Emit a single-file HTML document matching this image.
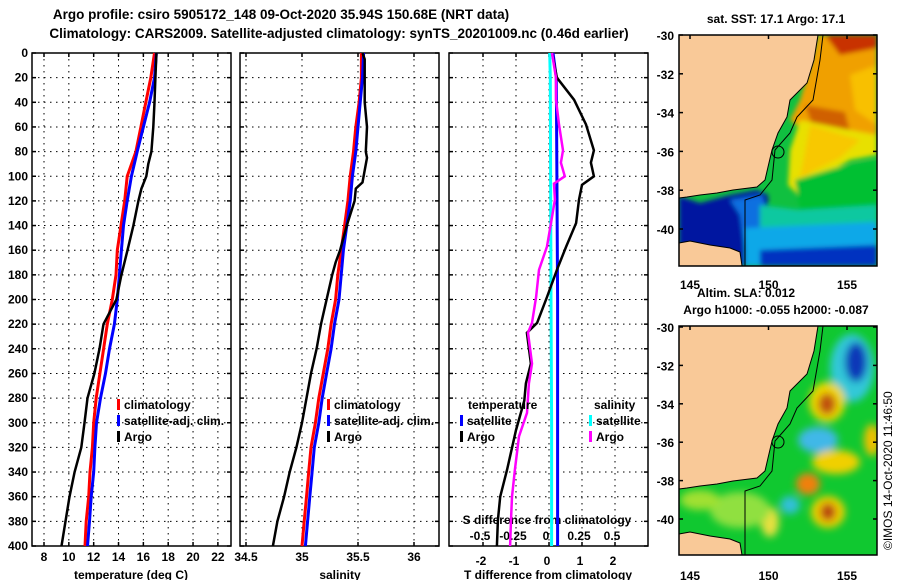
<!DOCTYPE html>
<html><head><meta charset="utf-8"><style>
html,body{margin:0;padding:0;background:#fff;}
svg{display:block;font-family:"Liberation Sans",Arial,sans-serif;font-weight:bold;}
</style></head><body>
<svg id="fig" width="900" height="580" viewBox="0 0 900 580">
<defs>
<filter id="blur3" x="-20%" y="-20%" width="140%" height="140%"><feGaussianBlur stdDeviation="2.5"/></filter>
<filter id="blur6" x="-30%" y="-30%" width="160%" height="160%"><feGaussianBlur stdDeviation="4"/></filter>
<clipPath id="clipTop"><rect x="679" y="35" width="198" height="231"/></clipPath>
<clipPath id="clipBot"><rect x="679" y="326" width="198" height="229"/></clipPath>
</defs>
<text x="281" y="19" font-size="13.5" text-anchor="middle">Argo profile: csiro 5905172_148 09-Oct-2020 35.94S 150.68E (NRT data)</text>
<text x="339" y="38" font-size="13.5" text-anchor="middle">Climatology: CARS2009. Satellite-adjusted climatology: synTS_20201009.nc (0.46d earlier)</text>

<g id="panels"></g>

<!-- Top map: SST -->
<g>
<g clip-path="url(#clipTop)">
<rect x="679" y="35" width="198" height="231" fill="#10c040"/>
<g filter="url(#blur3)">
<polygon points="790,120 800,100 812,60 818,35 877,35 877,140 850,138 820,135 800,128" fill="#f0a000"/>
<polygon points="825,35 877,35 877,48 840,55" fill="#c83000"/>
<polygon points="805,105 845,112 850,132 815,132" fill="#d06000"/>
<polygon points="850,75 877,65 877,125 855,110" fill="#f8c000"/>
<polygon points="800,120 850,130 877,135 877,155 850,160 830,172 812,188 798,195 788,185 790,150" fill="#e8e000"/>
<polygon points="810,125 860,140 840,158 815,170 800,178" fill="#f8c800"/>
<polygon points="679,196 700,203 730,195 757,190 768,195 768,215 760,235 748,266 679,266" fill="#0018a0"/>
<polygon points="730,200 762,195 768,215 758,240 745,250 740,215" fill="#1070e0"/>
<polygon points="760,205 800,210 877,205 877,240 760,240" fill="#10c8a0"/>
<polygon points="745,228 877,222 877,266 745,266" fill="#10a8e8"/>
<polygon points="760,250 877,245 877,266 760,266" fill="#0030c0"/>
<polygon points="795,180 835,168 877,160 877,205 800,210" fill="#00c030"/>
</g>
<polygon points="679,35 818,35 814,60 807,83 790,100 787,117 778,133 772,150 768,167 765,180 757,187 733,190 717,193 700,195 687,197 679,198" fill="#f9c998" stroke="#000" stroke-width="1"/>
<polygon points="679,243 690,241 710,245 730,248 740,252 742,266 679,266" fill="#f9c998" stroke="#000" stroke-width="1"/>
<polyline points="823,35 820,60 813,100 797,117 790,133 775,150 772,180 760,195 745,200 745,266" fill="none" stroke="#000" stroke-width="1"/>
<circle cx="778" cy="152" r="6" fill="none" stroke="#000" stroke-width="1"/>
</g>
<rect x="679" y="35" width="198" height="231" fill="none" stroke="#000" stroke-width="1.5"/>
</g>

<!-- Bottom map: SLA -->
<g>
<g clip-path="url(#clipBot)">
<rect x="679" y="326" width="198" height="229" fill="#10c830"/>
<g filter="url(#blur6)">
<ellipse cx="852" cy="368" rx="22" ry="34" fill="#30c8d8"/>
<ellipse cx="856" cy="362" rx="11" ry="20" fill="#0838b8"/>
<ellipse cx="827" cy="402" rx="18" ry="20" fill="#f0d800"/>
<ellipse cx="827" cy="404" rx="9" ry="11" fill="#c05010"/>
<ellipse cx="818" cy="440" rx="20" ry="13" fill="#40b8e8"/>
<ellipse cx="836" cy="462" rx="24" ry="12" fill="#f0d000"/>
<ellipse cx="808" cy="484" rx="12" ry="11" fill="#f08010"/>
<ellipse cx="828" cy="512" rx="17" ry="16" fill="#f0d000"/>
<ellipse cx="828" cy="512" rx="8" ry="9" fill="#b84010"/>
<ellipse cx="790" cy="505" rx="10" ry="9" fill="#30c0d8"/>
<ellipse cx="770" cy="522" rx="9" ry="15" fill="#e8e040"/>
<ellipse cx="872" cy="440" rx="8" ry="16" fill="#f0c000"/>
<ellipse cx="740" cy="510" rx="30" ry="18" fill="#90e040"/>
<ellipse cx="700" cy="500" rx="20" ry="10" fill="#a0e030"/>
</g>
<polygon points="679,326 818,326 814,351 807,374 790,391 787,408 778,424 772,441 768,458 765,471 757,478 733,481 717,484 700,486 687,488 679,489" fill="#f9c998" stroke="#000" stroke-width="1"/>
<polygon points="679,534 690,532 710,536 730,539 740,543 742,555 679,555" fill="#f9c998" stroke="#000" stroke-width="1"/>
<polyline points="823,326 820,351 813,391 797,408 790,424 775,441 772,471 760,486 745,491 745,555" fill="none" stroke="#000" stroke-width="1"/>
<circle cx="778" cy="442" r="6" fill="none" stroke="#000" stroke-width="1"/>
</g>
<rect x="679" y="326" width="198" height="229" fill="none" stroke="#000" stroke-width="1.5"/>
</g>

<text x="776" y="23" font-size="12" text-anchor="middle">sat. SST: 17.1 Argo: 17.1</text>
<text x="746" y="297" font-size="12" text-anchor="middle">Altim. SLA: 0.012</text>
<text x="776" y="314" font-size="12" text-anchor="middle">Argo h1000: -0.055 h2000: -0.087</text>
<text x="0" y="0" font-size="12" font-weight="normal" transform="translate(892,550) rotate(-90)">©IMOS 14-Oct-2020 11:46:50</text>
<g id="maplabels"></g>
</svg>
<script>
const depthStd = [0,20,40,60,80,100,120,140,160,180,200,220,240,260,280,300,320,340,360,380,400];
const tempClim = [16.9,16.6,16.2,15.8,15.4,14.7,14.5,14.2,13.9,13.8,13.5,13.1,12.8,12.5,12.2,12.0,11.9,11.7,11.6,11.4,11.3];
const tempSat = [17.05,16.9,16.5,16.0,15.5,15.04,14.7,14.4,14.23,14.07,13.9,13.67,13.27,12.95,12.55,12.23,12.1,12.0,11.8,11.66,11.5];
const argoTDepth = [0,20,40,60,80,90,100,110,120,140,160,180,200,220,240,260,280,300,320,340,360,380,400];
const tempArgo = [17.05,16.97,16.9,16.8,16.65,16.4,16.24,15.84,15.6,15.2,14.72,14.23,13.83,12.79,12.47,12.06,11.5,11.26,11.0,10.46,10.05,9.73,9.41];
const salClim = [35.53,35.53,35.51,35.48,35.46,35.43,35.41,35.38,35.35,35.32,35.30,35.26,35.23,35.19,35.15,35.12,35.08,35.06,35.04,35.02,35.00];
const salSat = [35.55,35.54,35.52,35.50,35.48,35.45,35.43,35.40,35.37,35.35,35.33,35.29,35.26,35.22,35.18,35.15,35.11,35.09,35.07,35.05,35.03];
const argoSDepth = [0,5,20,40,60,80,85,100,105,110,120,140,160,170,180,200,220,240,260,280,300,320,340,360,380,400];
const salArgo = [35.54,35.56,35.56,35.56,35.58,35.57,35.58,35.55,35.54,35.48,35.47,35.40,35.34,35.30,35.27,35.22,35.17,35.13,35.08,35.04,35.00,34.95,34.89,34.84,34.78,34.74];
const diffDepth = [0,20,38,58,79,89,100,107,119,138,157,176,198,219,227,252,268,282,306,338,360,379,400];
const dTArgo = [0.09,0.24,0.76,1.12,1.36,1.27,1.36,1.0,0.91,0.82,0.52,0.24,-0.06,-0.36,-0.67,-0.55,-0.7,-0.75,-1.0,-1.27,-1.48,-1.55,-1.58];
const dSDepth = [0,20,38,58,79,89,100,106,119,138,157,176,198,219,227,252,268,292,311,338,360,379,400];
const dSArgo = [0.023,0.053,0.053,0.076,0.106,0.09,0.12,0.038,0.045,0.015,-0.015,-0.076,-0.098,-0.129,-0.159,-0.129,-0.152,-0.167,-0.227,-0.258,-0.28,-0.288,-0.295];
const satDepth = [0,20,100,200,300,400];
const dTSat = [0.12,0.22,0.24,0.26,0.26,0.26];
const dSSat = [0.005,0.01,0.012,0.015,0.02,0.02];
const depthTicks = [0,20,40,60,80,100,120,140,160,180,200,220,240,260,280,300,320,340,360,380,400];
const tempTicks = [8,10,12,14,16,18,20,22];
const salTicks = [34.5,35,35.5,36];
const dTTicks = [-2,-1,0,1,2];
const dSTicks = ['-0.5','-0.25','0','0.25','0.5'];
const dSTickVals = [-0.5,-0.25,0,0.25,0.5];
const latTicks = [-30,-32,-34,-36,-38,-40];
const lonTicks = [145,150,155];

const NS='http://www.w3.org/2000/svg';
const g=document.getElementById('panels');
function yD(z){return 53+z*1.2325;}
function xT(t){return 44+(t-8)*12.42;}
function xS(s){return 246+(s-34.5)*112;}
function xD(d){return 549+d*33;}
function xDS(s){return 549+s*132;}
function mk(tag,attrs,parent){const e=document.createElementNS(NS,tag);for(const k in attrs)e.setAttribute(k,attrs[k]);(parent||g).appendChild(e);return e;}
function txt(x,y,s,anchor,size){const e=mk('text',{x:x,y:y,'font-size':size||12,'text-anchor':anchor||'middle'});e.textContent=s;return e;}
function line(xs,ds,fx,color,w,name){
  const pts=xs.map((v,i)=>fx(v).toFixed(1)+','+yD(ds[i]).toFixed(1)).join(' ');
  const p=mk('polyline',{points:pts,fill:'none',stroke:color,'stroke-width':w,'stroke-linejoin':'miter'});
  
  
}
const panels=[[32,231],[240,439],[449,648]];
panels.forEach((p,pi)=>{
  const r=mk('rect',{x:p[0],y:53,width:p[1]-p[0],height:493,fill:'none',stroke:'#000','stroke-width':1.5});
  
  
  depthTicks.forEach(d=>{
    if(d>0&&d<400){mk('line',{x1:p[0],x2:p[1],y1:yD(d),y2:yD(d),stroke:'#000','stroke-width':1,'stroke-dasharray':'1.5,4.5'});}
    mk('line',{x1:p[0],x2:p[0]+4,y1:yD(d),y2:yD(d),stroke:'#000','stroke-width':1.5});
    mk('line',{x1:p[1]-4,x2:p[1],y1:yD(d),y2:yD(d),stroke:'#000','stroke-width':1.5});
  });
});
function vgrid(x){mk('line',{x1:x,x2:x,y1:53,y2:546,stroke:'#000','stroke-width':1,'stroke-dasharray':'1.5,4.5'});mk('line',{x1:x,x2:x,y1:53,y2:57,stroke:'#000','stroke-width':1.5});mk('line',{x1:x,x2:x,y1:542,y2:546,stroke:'#000','stroke-width':1.5});}
tempTicks.forEach(t=>{vgrid(xT(t));const e=txt(xT(t),561,String(t));});
salTicks.forEach(s=>{vgrid(xS(s));const e=txt(xS(s),561,String(s));});
dTTicks.forEach(d=>{vgrid(xD(d));const e=txt(xD(d)-2,565,String(d));});
dSTicks.forEach((s,i)=>{const e=txt(xDS(dSTickVals[i])-3,540,s);});
depthTicks.forEach(d=>{const e=txt(28,yD(d)+4,String(d),'end');});
let e;
e=txt(131,579,'temperature (deg C)');
e=txt(340,579,'salinity');
e=txt(548,579,'T difference from climatology');
e=txt(547,524,'S difference from climatology');

line(tempClim,depthStd,xT,'#ff0000',3,'temp-climatology-line');
line(tempSat,depthStd,xT,'#0000ff',3,'temp-satellite-line');
line(tempArgo,argoTDepth,xT,'#000',2.5,'temp-argo-line');
line(salClim,depthStd,xS,'#ff0000',3,'sal-climatology-line');
line(salSat,depthStd,xS,'#0000ff',3,'sal-satellite-line');
line(salArgo,argoSDepth,xS,'#000',2.5,'sal-argo-line');
line(dSSat,satDepth,xDS,'#00ffff',3,'dS-satellite-line');
line(dTSat,satDepth,xD,'#0000ff',3,'dT-satellite-line');
line(dTArgo,diffDepth,xD,'#000',2.5,'dT-argo-line');
line(dSArgo,dSDepth,xDS,'#ff00ff',2.5,'dS-argo-line');

function legend(x,y,color,label,name){
  const m=mk('rect',{x:x,y:y-10,width:3,height:11,fill:color});
  
  
  const t=txt(x+7,y,label,'start');
  
  
}
legend(117,409,'#ff0000','climatology','legend-temp-climatology');
legend(117,425,'#0000ff','satellite-adj. clim.','legend-temp-satellite');
legend(117,441,'#000','Argo','legend-temp-argo');
legend(327,409,'#ff0000','climatology','legend-sal-climatology');
legend(327,425,'#0000ff','satellite-adj. clim.','legend-sal-satellite');
legend(327,441,'#000','Argo','legend-sal-argo');
e=txt(468,409,'temperature','start');
e=txt(594,409,'salinity','start');
legend(460,425,'#0000ff','satellite','legend-dT-satellite');
legend(460,441,'#000','Argo','legend-dT-argo');
legend(589,425,'#00ffff','satellite','legend-dS-satellite');
legend(589,441,'#ff00ff','Argo','legend-dS-argo');

const ml=document.getElementById('maplabels');
function mtxt(x,y,s,anchor){const t=document.createElementNS(NS,'text');t.setAttribute('x',x);t.setAttribute('y',y);t.setAttribute('font-size',12);t.setAttribute('text-anchor',anchor);t.textContent=s;ml.appendChild(t);return t;}
function lonX(l){return 690+(l-145)*15.7;}
latTicks.forEach(l=>{
  const yt=35+(-30-l)*19.4; const yb=327+(-30-l)*19.2;
  let t=mtxt(674,yt+5,String(l),'end');
  t=mtxt(674,yb+5,String(l),'end');
  [[yt],[yb]].forEach(a=>{mk('line',{x1:679,x2:683,y1:a[0],y2:a[0],stroke:'#000','stroke-width':1.5},ml);mk('line',{x1:873,x2:877,y1:a[0],y2:a[0],stroke:'#000','stroke-width':1.5},ml);});
});
lonTicks.forEach(l=>{
  let t=mtxt(lonX(l),289,String(l),'middle');
  t=mtxt(lonX(l),580,String(l),'middle');
  mk('line',{x1:lonX(l),x2:lonX(l),y1:35,y2:39,stroke:'#000','stroke-width':1.5},ml);
  mk('line',{x1:lonX(l),x2:lonX(l),y1:326,y2:330,stroke:'#000','stroke-width':1.5},ml);
});
</script>
</body></html>
